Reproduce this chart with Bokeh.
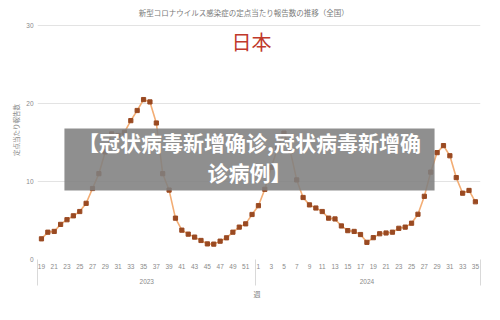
from bokeh.plotting import figure
from bokeh.models import (ColumnDataSource, FixedTicker, LinearAxis, Label, BoxAnnotation, Range1d, Title)
from bokeh.embed import file_html
from bokeh.resources import INLINE

title_text = "新型コロナウイルス感染症の定点当たり報告数の推移（全国）"
country = "日本"
overlay_lines = ["【冠状病毒新增确诊,冠状病毒新增确", "诊病例】"]
y_title = "定点当たり報告数"
x_title = "週"
years = ["2023", "2024"]

weeks_2023 = list(range(19, 53))
vals_2023 = [2.65, 3.5, 3.6, 4.5, 5.1, 5.6, 6.15, 7.2, 9.1, 11.0, 13.8, 16.1, 15.9, 16.3,
             17.8, 19.1, 20.5, 20.2, 17.5, 11.0, 8.9, 5.3, 3.76, 3.25, 2.87, 2.44, 2.0,
             1.97, 2.35, 2.78, 3.5, 4.15, 4.57, 5.77]
weeks_2024 = list(range(1, 36))
vals_2024 = [6.9, 9.0, 11.8, 14.3, 16.2, 13.9, 10.2, 7.95, 7.0, 6.6, 6.15, 5.3, 5.2, 4.3,
             3.7, 3.6, 3.2, 2.2, 2.8, 3.3, 3.4, 3.5, 4.0, 4.15, 4.65, 5.8, 8.1, 11.2, 13.7,
             14.6, 13.3, 10.5, 8.5, 8.85, 7.4]
y_ticks = [0, 10, 20, 30]

weeks = weeks_2023 + weeks_2024
vals = vals_2023 + vals_2024
idx = list(range(len(weeks)))
n23 = len(weeks_2023)

src = ColumnDataSource(dict(x=idx, y=vals))

p = figure(width=500, height=320, output_backend="svg", toolbar_location=None,
           x_range=Range1d(-0.62, len(weeks) - 1 + 0.8), y_range=Range1d(0, 33.2),
           min_border_left=37, min_border_right=20, min_border_top=0, min_border_bottom=61,
           x_axis_type=None, outline_line_color=None, background_fill_color="white",
           border_fill_color="white")

p.line("x", "y", source=src, line_color="#f3ad74", line_width=1.6)
p.scatter("x", "y", source=src, marker="square", size=4.2, fill_color="#9a4a22",
          line_color="#9a4a22")

# y axis
p.yaxis.ticker = FixedTicker(ticks=y_ticks)
p.yaxis.axis_line_color = None
p.yaxis.major_tick_line_color = None
p.yaxis.minor_tick_line_color = None
p.yaxis.major_tick_out = 0
p.yaxis.major_tick_in = 0
p.yaxis.major_label_text_font_size = "6.5px"
p.yaxis.major_label_text_color = "#8a8a8a"
p.yaxis.major_label_standoff = 4
p.yaxis.axis_label = y_title
p.yaxis.axis_label_text_font = "Noto Sans CJK JP"
p.yaxis.axis_label_text_font_size = "6.5px"
p.yaxis.axis_label_text_font_style = "normal"
p.yaxis.axis_label_text_color = "#8a8a8a"
p.yaxis.axis_label_standoff = 2
p.ygrid.ticker = FixedTicker(ticks=y_ticks)
p.ygrid.grid_line_color = "#e3e3e3"
p.xgrid.grid_line_color = None

# week axis with separators as minor ticks
tick_idx = [i for i, w in zip(idx, weeks) if w % 2 == 1]
seps = [-0.58, n23 - 0.5, len(weeks) - 1 + 0.75]
wax = LinearAxis(ticker=FixedTicker(ticks=tick_idx, minor_ticks=seps))
wax.major_label_overrides = {i: str(weeks[i]) for i in tick_idx}
wax.axis_line_color = None
wax.major_tick_line_color = None
wax.major_tick_out = 0
wax.minor_tick_out = 26
wax.minor_tick_in = 0
wax.minor_tick_line_color = "#d9d9d9"
wax.major_label_text_font_size = "6.5px"
wax.major_label_text_color = "#8a8a8a"
wax.major_label_standoff = -22
p.add_layout(wax, "below")

# year axis
centers = [(n23 - 1) / 2, n23 + (len(weeks_2024) - 1) / 2]
yax = LinearAxis(ticker=FixedTicker(ticks=centers))
yax.major_label_overrides = {c: y for c, y in zip(centers, years)}
yax.axis_line_color = None
yax.major_tick_line_color = None
yax.major_tick_out = 0
yax.minor_tick_line_color = None
yax.major_label_text_font_size = "6.5px"
yax.major_label_text_color = "#8a8a8a"
yax.major_label_standoff = 7
p.add_layout(yax, "below")

p.add_layout(Title(text=x_title, align="left", offset=216, standoff=0,
                   text_font="Noto Sans CJK JP", text_font_size="7px",
                   text_font_style="normal", text_color="#7a7a7a"), "below")

# texts
p.add_layout(Label(x=(len(weeks) - 1) / 2 - 2.3, y=31.6, text=title_text, text_align="center",
                   text_baseline="middle", text_font="Noto Sans CJK JP", text_font_size="7.5px",
                   text_color="#7a7a7a"))
p.add_layout(Label(x=(len(weeks) - 1) / 2 - 1.1, y=27.9, text=country, text_align="center",
                   text_baseline="middle", text_font="Noto Sans CJK JP", text_font_size="20px",
                   text_color="#c0392b"))

p.add_layout(BoxAnnotation(left=3.6, right=61.6, bottom=8.85, top=16.8,
                           fill_color="#7f7f7f", fill_alpha=0.88, line_color=None))
p.add_layout(Label(x=32.6, y=15.0, text=overlay_lines[0], text_align="center",
                   text_baseline="middle", text_font="Noto Sans CJK SC", text_font_size="21px",
                   text_font_style="bold", text_color="white"))
p.add_layout(Label(x=32.6, y=11.2, text=overlay_lines[1], text_align="center",
                   text_baseline="middle", text_font="Noto Sans CJK SC", text_font_size="21px",
                   text_font_style="bold", text_color="white"))

open("out.html", "w").write(file_html(p, INLINE))
